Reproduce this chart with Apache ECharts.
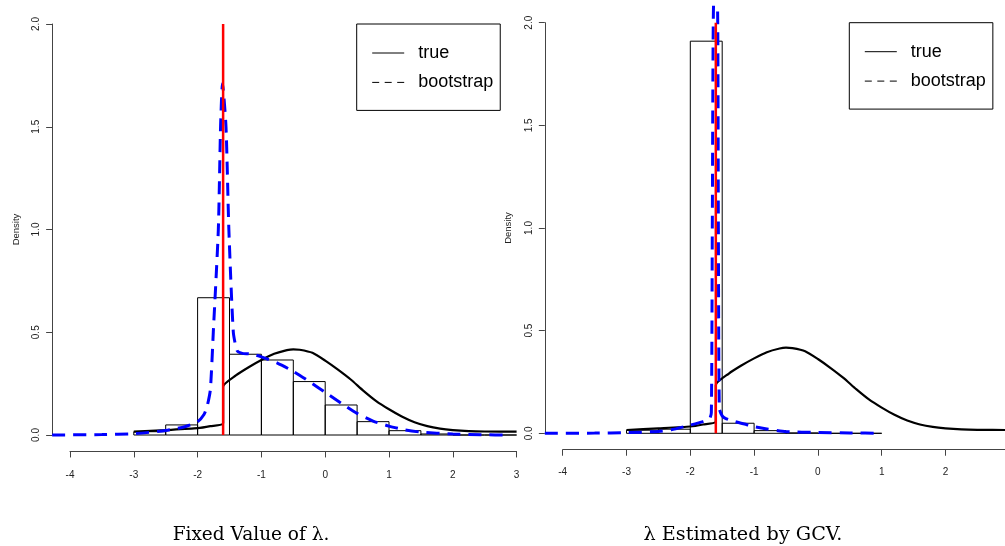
<!DOCTYPE html>
<html>
<head>
<meta charset="utf-8">
<title>bootstrap density</title>
<script src="https://cdn.jsdelivr.net/npm/echarts@6/dist/echarts.min.js"></script>
<style>
  html, body { margin: 0; padding: 0; background: #fff; }
  #chart { width: 1005px; height: 546px; }
</style>
</head>
<body>
<div id="chart"></div>
<script>
// tick labels
const xTicks = [-4, -3, -2, -1, 0, 1, 2, 3]
const yTicks = [0, 0.5, 1, 1.5, 2]

// fixed lambda (red line)
const lambdaX = -1.6
const lambdaTop = 2

// histograms: bin edges + densities
const breaksL = [-3, -2.5, -2, -1.5, -1, -0.5, 0, 0.5, 1, 1.5, 2, 2.5, 3]
const histL = [0.016, 0.049, 0.668, 0.393, 0.365, 0.26, 0.146, 0.065, 0.021, 0.005, 0, 0]
const breaksR = [-3, -2.5, -2, -1.5, -1, -0.5, 0, 0.5, 1]
const histR = [0.015, 0.02, 1.91, 0.049, 0.013, 0.002, 0, 0]

// true density (same in both panels)
const trueX = [-3, -2.5, -2, -1.8, -1.6, -1.6, -1.4, -1.2, -1, -0.8, -0.6, -0.5, -0.4, -0.2, 0, 0.2, 0.4, 0.6, 0.8, 1, 1.2, 1.4, 1.6, 1.8, 2, 2.25, 2.5, 3]
const trueY = [0.016, 0.024, 0.033, 0.043, 0.057, 0.235, 0.29, 0.33, 0.365, 0.395, 0.413, 0.417, 0.415, 0.4, 0.362, 0.318, 0.27, 0.215, 0.165, 0.125, 0.09, 0.062, 0.043, 0.031, 0.024, 0.019, 0.017, 0.016]

// bootstrap density, fixed lambda
const bootLX = [-4.28, -3.5, -3, -2.5, -2.2, -2, -1.9, -1.85, -1.8, -1.754, -1.675, -1.64, -1.61, -1.555, -1.51, -1.44, -1.38, -1.3, -1.2, -1.1, -1, -0.75, -0.5, -0.25, 0, 0.25, 0.5, 0.75, 1, 1.25, 1.5, 2, 2.5, 2.84]
const bootLY = [0, 0.002, 0.006, 0.022, 0.04, 0.065, 0.1, 0.14, 0.22, 0.5, 1.0, 1.5, 1.71, 1.5, 1.0, 0.5, 0.41, 0.397, 0.395, 0.39, 0.38, 0.35, 0.31, 0.26, 0.208, 0.155, 0.105, 0.068, 0.043, 0.025, 0.014, 0.005, 0.001, 0]

// bootstrap density, lambda by GCV
const bootRX = [-4.28, -3.5, -3, -2.5, -2.3, -2, -1.8, -1.7, -1.67, -1.655, -1.64, -1.6, -1.57, -1.56, -1.545, -1.5, -1.45, -1.3, -1.15, -1, -0.8, -0.5, 0, 0.5, 1]
const bootRY = [0, 0.001, 0.003, 0.009, 0.017, 0.04, 0.057, 0.07, 0.1, 1.0, 2.0, 2.6, 2.0, 1.0, 0.12, 0.085, 0.073, 0.057, 0.045, 0.032, 0.021, 0.008, 0.004, 0.002, 0]

const W = 1005
const axisColor = '#444'
const labelColor = '#222'
const sans = 'Liberation Sans, Arial, sans-serif'

function zip (xs, ys) {
  return xs.map((x, i) => [x, ys[i]])
}

function bins (breaks, dens) {
  return dens.map((d, i) => [breaks[i], breaks[i + 1], d])
}

// histogram bar as an open rectangle
function histItem (params, api) {
  const p0 = api.coord([api.value(0), api.value(2)])
  const p1 = api.coord([api.value(1), 0])
  return {
    type: 'rect',
    shape: { x: p0[0], y: p0[1], width: p1[0] - p0[0], height: p1[1] - p0[1] },
    style: { fill: 'none', stroke: '#000', lineWidth: 1 }
  }
}

// one panel = plot grid + x axis grid + y axis grid
// g: px of x=-4, px per x unit, px of y=0, px per y unit
// the right panel runs off the page, so grids are cut at the page edge
function panel (g) {
  const left = g.x0 - 0.28 * g.sx
  const top = g.y0 - 2.08 * g.sy
  const plotW = Math.min(7.56 * g.sx, W - left)
  const axisW = Math.min(7 * g.sx, W - g.x0)
  return {
    plotMax: -4.28 + plotW / g.sx,
    axisMax: -4 + axisW / g.sx,
    grids: [
      { left: left, top: top, width: plotW, height: 2.16 * g.sy, outerBoundsMode: 'none' },
      { left: g.x0, top: g.y0 + 0.08 * g.sy - 10, width: axisW, height: 10, outerBoundsMode: 'none' },
      { left: left, top: g.y0 - 2 * g.sy, width: 10, height: 2 * g.sy, outerBoundsMode: 'none' }
    ]
  }
}

const pL = panel({ x0: 70, sx: 63.8, y0: 435, sy: 205.5 })
const pR = panel({ x0: 562.7, sx: 63.8, y0: 433.3, sy: 205.3 })

const hidden = { show: false }

function axesFor (off, p, labelMargin) {
  const xs = [
    { type: 'value', gridIndex: off, min: -4.28, max: p.plotMax, show: false },
    {
      type: 'value', gridIndex: off + 1, min: xTicks[0], max: Math.min(p.axisMax, xTicks[xTicks.length - 1]), interval: 1,
      axisLine: { onZero: false, lineStyle: { color: axisColor, width: 1 } },
      axisTick: { length: 6, lineStyle: { color: axisColor } },
      axisLabel: {
        fontSize: 10, color: labelColor, fontFamily: sans, margin: labelMargin,
        formatter: v => (xTicks.indexOf(v) >= 0 ? String(v) : '')
      },
      splitLine: hidden
    },
    { type: 'value', gridIndex: off + 2, show: false }
  ]
  const ys = [
    { type: 'value', gridIndex: off, min: -0.08, max: 2.08, show: false },
    { type: 'value', gridIndex: off + 1, show: false },
    {
      type: 'value', gridIndex: off + 2, min: yTicks[0], max: yTicks[yTicks.length - 1], interval: 0.5,
      axisLine: { show: true, onZero: false, lineStyle: { color: axisColor, width: 1 } },
      axisTick: { show: true, length: 6, lineStyle: { color: axisColor } },
      axisLabel: { fontSize: 10, color: labelColor, fontFamily: sans, rotate: 90, margin: 11, formatter: v => v.toFixed(1) },
      splitLine: hidden,
      name: 'Density',
      nameLocation: 'middle',
      nameRotate: 90,
      nameGap: 31,
      nameTextStyle: { fontSize: 9.5, color: labelColor, fontFamily: sans }
    }
  ]
  return { xs, ys }
}

const axL = axesFor(0, pL, 18.5)
const axR = axesFor(3, pR, 18)

function seriesFor (off, breaks, dens, bootX, bootY) {
  return [
    {
      name: 'hist', type: 'custom', xAxisIndex: off, yAxisIndex: off,
      renderItem: histItem, data: bins(breaks, dens), encode: { x: [0, 1], y: 2 },
      silent: true, z: 1
    },
    {
      name: 'true', type: 'line', xAxisIndex: off, yAxisIndex: off,
      data: zip(trueX, trueY), showSymbol: false, symbol: 'none', smooth: 0.2,
      lineStyle: { color: '#000', width: 2.2 }, itemStyle: { color: '#000' }, z: 2
    },
    {
      name: 'bootstrap', type: 'line', xAxisIndex: off, yAxisIndex: off,
      data: zip(bootX, bootY), showSymbol: false, symbol: 'none', smooth: 0.2,
      lineStyle: { color: '#0000ff', width: 3, type: [13, 8] }, itemStyle: { color: '#0000ff' }, z: 3
    },
    {
      name: 'lambda', type: 'line', xAxisIndex: off, yAxisIndex: off,
      data: [[lambdaX, 0], [lambdaX, lambdaTop]], showSymbol: false, symbol: 'none',
      lineStyle: { color: '#ff0000', width: 2.5 }, z: 4
    }
  ]
}

// legend key: plain black lines, no symbol dot
const noDot = { color: 'rgba(0,0,0,0)', borderColor: 'rgba(0,0,0,0)', borderWidth: 0, opacity: 0 }

function legendAt (left, top) {
  return {
    left: left, top: top, orient: 'vertical', selectedMode: false,
    backgroundColor: '#fff', borderColor: '#000', borderWidth: 1, borderRadius: 0,
    padding: [19, 7, 18, 15], itemGap: 9.4, itemWidth: 32, itemHeight: 14,
    textStyle: { fontSize: 18, color: '#000', fontFamily: sans, lineHeight: 20, padding: [0, 0, 0, 9] },
    data: [
      { name: 'true', lineStyle: { color: '#000', width: 1, type: 'solid' }, itemStyle: noDot },
      { name: 'bootstrap', lineStyle: { color: '#000', width: 1, type: [7, 5.5] }, itemStyle: noDot }
    ]
  }
}

const captionStyle = { fontFamily: 'DejaVu Serif', fontWeight: 'normal', color: '#000' }

const chart = echarts.init(document.getElementById('chart'), null, { renderer: 'canvas' })
const option = {
  animation: false,
  backgroundColor: '#fff',
  grid: pL.grids.concat(pR.grids),
  xAxis: axL.xs.concat(axR.xs),
  yAxis: axL.ys.concat(axR.ys),
  legend: [legendAt(356.7, 24), legendAt(849.3, 22.7)],
  title: [
    { text: 'Fixed Value of λ.', left: 251, top: 526, textAlign: 'center', padding: 0,
      textStyle: Object.assign({ fontSize: 18.5 }, captionStyle) },
    { text: 'λ Estimated by GCV.', left: 743, top: 526, textAlign: 'center', padding: 0,
      textStyle: Object.assign({ fontSize: 19.2 }, captionStyle) }
  ],
  series: seriesFor(0, breaksL, histL, bootLX, bootLY).concat(seriesFor(3, breaksR, histR, bootRX, bootRY))
}
chart.setOption(option)
</script>
</body>
</html>
